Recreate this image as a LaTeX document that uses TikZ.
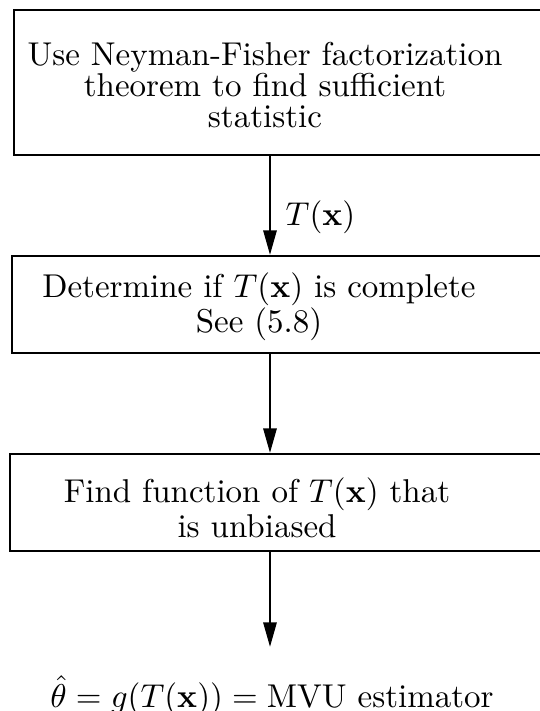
\documentclass[tikz,border=0pt]{standalone}
\usetikzlibrary{arrows.meta,fit}
\begin{document}
\begin{tikzpicture}[x=0.30303pt,y=-0.30303pt,
  boxst/.style={draw, line width=0.6pt, inner sep=0pt},
  txt/.style={align=center, inner sep=0pt},
  flow/.style={-{Triangle[length=7.5pt,width=4pt]}, line width=0.75pt}]
\useasboundingbox (0,0) rectangle (540,711);
\node[boxst, fit={(14,10) (548,155)}] (b1) {};
\node[boxst, fit={(12,256) (548,353)}] (b2) {};
\node[boxst, fit={(10,454) (548,551)}] (b3) {};
\node[txt, font=\fontsize{10}{9.4}\selectfont] (t1) at (265,85)
  {Use Neyman-Fisher factorization\\theorem to find sufficient\\statistic};
\node[txt, font=\fontsize{10}{10.5}\selectfont] (t2) at (259,307)
  {Determine if $T(\mathbf{x})$ is complete\\See (5.8)};
\node[txt, font=\fontsize{10}{9.4}\selectfont] (t3) at (257,508)
  {Find function of $T(\mathbf{x})$ that\\is unbiased};
\node[txt] (out) at (272,696) {$\hat\theta = g(T(\mathbf{x})) = \mathrm{MVU}$ estimator};
\coordinate (ax) at (270,0);
\coordinate (e3) at (270,647);
\draw[flow] (b1.south -| ax) -- (b2.north -| ax);
\node[anchor=west, inner sep=0pt] (lab) at (285,217) {$T(\mathbf{x})$};
\draw[flow] (b2.south -| ax) -- (b3.north -| ax);
\draw[flow] (b3.south -| ax) -- (e3);
\end{tikzpicture}
\end{document}
